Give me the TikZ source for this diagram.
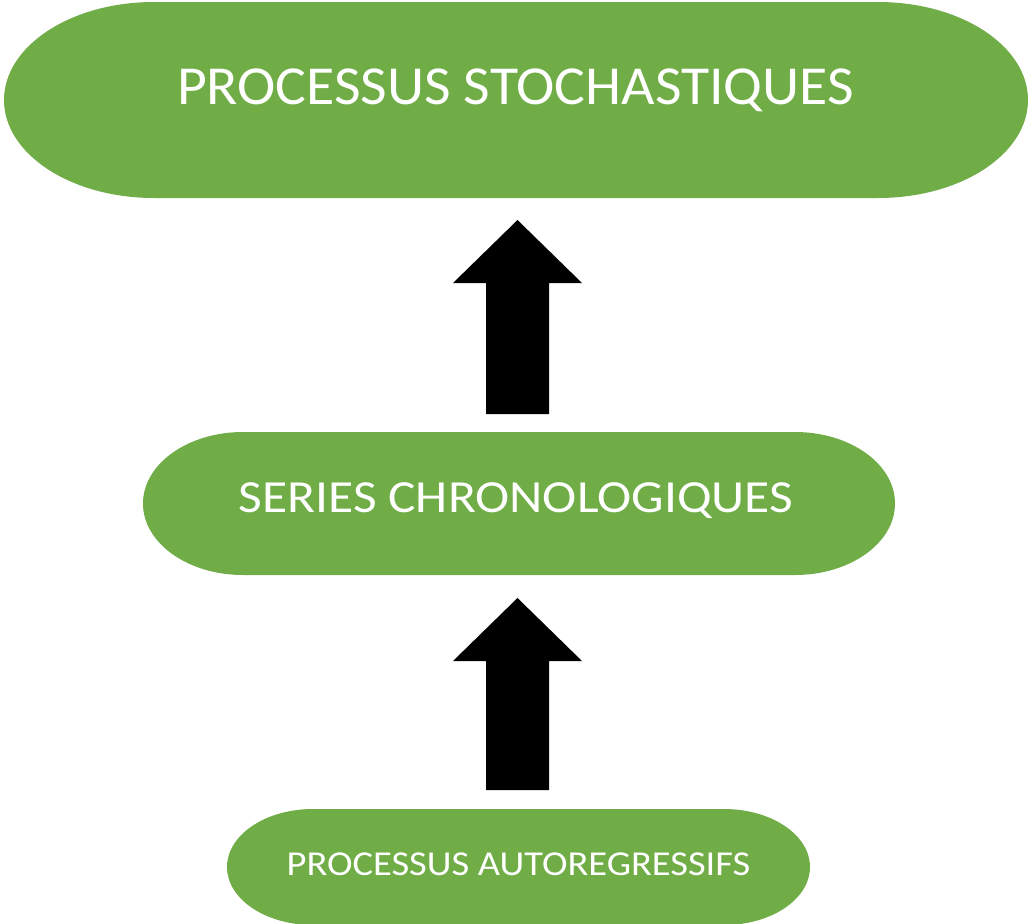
\documentclass[tikz,border=0pt]{standalone}
\usepackage{fontspec}
\setmainfont{Carlito}
\definecolor{ogreen}{HTML}{70AD47}
\tikzset{
  pill/.style={fill=ogreen},
  blockarrow/.style={fill=black},
  lbl/.style={text=white, inner sep=0pt, anchor=base}
}
\begin{document}
\begin{tikzpicture}[x=1pt,y=-1pt]
\useasboundingbox (0,0) rectangle (1029,924);
% top pill: x 4..1028, y 2..198
\fill[pill] (154,2) -- (878,2) arc[start angle=-90,end angle=90,x radius=150,y radius=98]
  -- (154,198) arc[start angle=90,end angle=270,x radius=150,y radius=98] -- cycle;
% middle pill: x 143..895, y 432..575
\fill[pill] (243,432) -- (795,432) arc[start angle=-90,end angle=90,x radius=100,y radius=71.5]
  -- (243,575) arc[start angle=90,end angle=270,x radius=100,y radius=71.5] -- cycle;
% bottom pill: x 227..810, y 809..925
\fill[pill] (313,809) -- (724,809) arc[start angle=-90,end angle=90,x radius=86,y radius=58]
  -- (313,925) arc[start angle=90,end angle=270,x radius=86,y radius=58] -- cycle;
\node[lbl, xscale=1.05, font=\fontsize{55}{60}\selectfont] (top) at (515.5,104) {PROCESSUS STOCHASTIQUES};
\node[lbl, xscale=1.12, font=\fontsize{46}{50}\selectfont] (mid) at (516,512) {SERIES CHRONOLOGIQUES};
\node[lbl, xscale=1.10, font=\fontsize{35}{40}\selectfont] (bot) at (518.5,875) {PROCESSUS AUTOREGRESSIFS};
% block arrows
\fill[blockarrow] (486,414) -- (486,283) -- (453,283) -- (517.5,220) -- (582,283) -- (549,283) -- (549,414) -- cycle;
\fill[blockarrow] (486,790) -- (486,661) -- (453,661) -- (517.5,598) -- (582,661) -- (549,661) -- (549,790) -- cycle;
\end{tikzpicture}
\end{document}
